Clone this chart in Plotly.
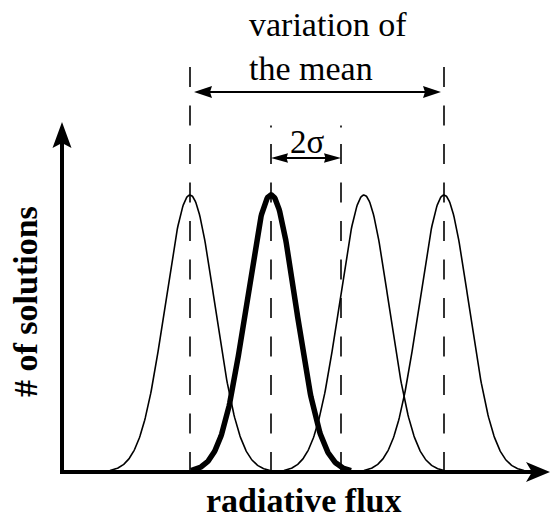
import numpy as np
import plotly.graph_objects as go

# ---- data -----------------------------------------------------------------
flux_means = [128, 209, 302, 382]   # centres of the four solution distributions
highlight = 1                       # the distribution drawn with a heavy line
sigma = 35                          # width parameter of every distribution
support = 80                        # half-range over which each curve is drawn
peak = 1.0                          # normalised peak count

# ---- geometry ---------------------------------------------------------------
W, H = 550, 518
X0_PX, Y0_PX = 62, 472              # pixel position of the axes origin
PX_PER_X = 1.0
PX_PER_Y = 277.0

x_range = [-X0_PX / PX_PER_X, (W - X0_PX) / PX_PER_X]
y_range = [-(H - Y0_PX) / PX_PER_Y, Y0_PX / PX_PER_Y]


def dx(px):
    return px / PX_PER_X


def dy(px):
    return px / PX_PER_Y


def ypix(py):
    """data y of a screen row"""
    return (Y0_PX - py) / PX_PER_Y


def xpix(px):
    return (px - X0_PX) / PX_PER_X


def arrowhead(x, y, direction, length, half, notch):
    """filled barbed arrowhead path with its tip at (x, y)"""
    if direction in ("left", "right"):
        s = 1 if direction == "right" else -1
        bx = x - s * dx(length)
        nx = x - s * dx(length - notch)
        pts = [(x, y), (bx, y + dy(half)), (nx, y), (bx, y - dy(half))]
    else:
        s = 1 if direction == "up" else -1
        by = y - s * dy(length)
        ny = y - s * dy(length - notch)
        pts = [(x, y), (x - dx(half), by), (x, ny), (x + dx(half), by)]
    return "M" + "L".join(f"{px:.4f},{py:.4f}" for px, py in pts) + "Z"


fig = go.Figure()

# ---- distributions ------------------------------------------------------------
order = [i for i in range(len(flux_means)) if i != highlight] + [highlight]
for i in order:
    mu = flux_means[i]
    xs = np.linspace(mu - support, mu + support, 241)
    ys = peak * np.exp(-((xs - mu) / sigma) ** 2)
    fig.add_trace(go.Scatter(
        x=xs, y=ys, mode="lines",
        line=dict(color="black", width=5.5 if i == highlight else 1.6),
        hoverinfo="skip", showlegend=False,
    ))

shapes = []
dash = "20px,18.5px"

# dashed guides: extremes of the mean and the 2-sigma bracket
left_mu, right_mu = flux_means[0], flux_means[-1]
hi_mu = flux_means[highlight]
two_sig = hi_mu + 2 * sigma
for xv in (left_mu, right_mu):
    shapes.append(dict(type="line", xref="x", yref="y", layer="below",
                       x0=xv, x1=xv, y0=ypix(67), y1=0,
                       line=dict(color="black", width=1.6, dash=dash)))
for xv in (hi_mu, two_sig):
    shapes.append(dict(type="line", xref="x", yref="y", layer="below",
                       x0=xv, x1=xv, y0=ypix(144), y1=0,
                       line=dict(color="black", width=1.6, dash=dash)))
    shapes.append(dict(type="line", xref="x", yref="y", layer="below",
                       x0=xv, x1=xv, y0=ypix(125.5), y1=ypix(127.5),
                       line=dict(color="black", width=1.6)))

# variation-of-the-mean double arrow
ya = ypix(92)
tipL, tipR = left_mu + dx(4), right_mu - dx(3)
shapes.append(dict(type="line", xref="x", yref="y",
                   x0=tipL + dx(12), x1=tipR - dx(12), y0=ya, y1=ya,
                   line=dict(color="black", width=2)))
for tip, d in ((tipL, "left"), (tipR, "right")):
    shapes.append(dict(type="path", xref="x", yref="y",
                       path=arrowhead(tip, ya, d, 18, 6, 2),
                       fillcolor="black", line=dict(width=0)))

# 2-sigma double arrow
ys2 = ypix(158)
shapes.append(dict(type="line", xref="x", yref="y",
                   x0=hi_mu + dx(10), x1=two_sig - dx(10), y0=ys2, y1=ys2,
                   line=dict(color="black", width=2)))
for tip, d in ((hi_mu, "left"), (two_sig, "right")):
    shapes.append(dict(type="path", xref="x", yref="y",
                       path=arrowhead(tip, ys2, d, 17, 4.8, 1.5),
                       fillcolor="black", line=dict(width=0)))

# axes with arrowheads
y_tip = ypix(122)
x_tip = xpix(550)
shapes.append(dict(type="line", xref="x", yref="y",
                   x0=0, x1=0, y0=-dy(2), y1=y_tip - dy(20),
                   line=dict(color="black", width=4)))
shapes.append(dict(type="path", xref="x", yref="y",
                   path=arrowhead(0, y_tip, "up", 26, 9.5, 5),
                   fillcolor="black", line=dict(width=0)))
shapes.append(dict(type="line", xref="x", yref="y",
                   x0=-dx(2), x1=x_tip - dx(18), y0=0, y1=0,
                   line=dict(color="black", width=4)))
shapes.append(dict(type="path", xref="x", yref="y",
                   path=arrowhead(x_tip, 0, "right", 24, 10, 6),
                   fillcolor="black", line=dict(width=0)))

serif = "Liberation Serif"
annotations = [
    dict(text="variation of<br>the mean", x=xpix(247), y=ypix(46),
         xanchor="left", yanchor="middle", align="left", showarrow=False,
         font=dict(family=serif, size=34, color="black")),
    dict(text="2σ", x=xpix(307), y=ypix(142),
         xanchor="center", yanchor="middle", showarrow=False,
         font=dict(family=serif, size=33, color="black")),
    dict(text="<b># of solutions</b>", x=xpix(25), y=ypix(302), textangle=-90,
         xanchor="center", yanchor="middle", showarrow=False,
         font=dict(family=serif, size=34, color="black")),
    dict(text="<b>radiative flux</b>", x=xpix(303), y=ypix(500),
         xanchor="center", yanchor="middle", showarrow=False,
         font=dict(family=serif, size=34, color="black")),
]

fig.update_layout(
    width=W, height=H, autosize=False,
    margin=dict(l=0, r=0, t=0, b=0, pad=0),
    paper_bgcolor="white", plot_bgcolor="white",
    xaxis=dict(range=x_range, visible=False, fixedrange=True),
    yaxis=dict(range=y_range, visible=False, fixedrange=True),
    shapes=shapes, annotations=annotations, showlegend=False,
)

fig.write_html("out.html")
